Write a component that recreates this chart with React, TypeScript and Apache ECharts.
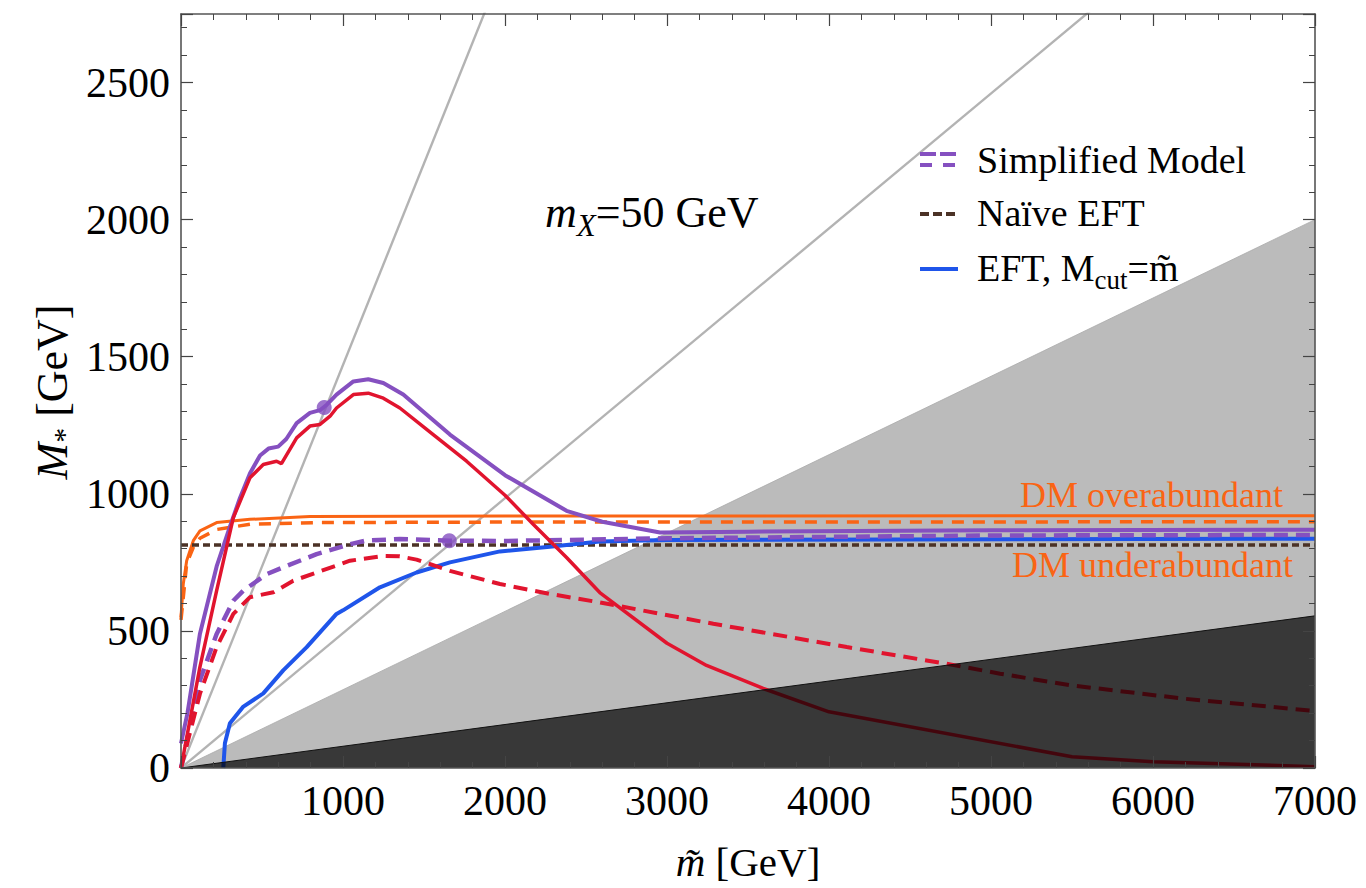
import React, { useEffect, useRef } from "react";
import * as echarts from "echarts";

const FONT = "'Liberation Serif', 'Times New Roman', Times, serif";

const xMin = 0;
const xMax = 7000;
const xMajor = 1000;
const yMin = 0;
const yMax = 2750;
const yMajor = 500;
const yMinor = 100;

// Simplified model, solid (purple)
const purpleSolid: [number, number][] = [
  [0, 90], [40, 200], [117, 490], [220, 735], [302, 880], [364, 985], [426, 1075],
  [488, 1140], [540, 1165], [600, 1172], [650, 1200], [714, 1258], [796, 1295],
  [858, 1305], [900, 1325], [960, 1362], [1064, 1410], [1156, 1418], [1249, 1404],
  [1372, 1362], [1660, 1216], [2000, 1068], [2380, 938], [2600, 898], [2957, 859],
  [3500, 862], [5000, 867], [7000, 869],
];
// Simplified model, dashed (purple)
const purpleDashed: [number, number][] = [
  [0, 0], [117, 320], [220, 489], [323, 610], [385, 647], [529, 707], [631, 732],
  [837, 780], [1043, 816], [1146, 830], [1351, 835], [1557, 831], [1656, 829],
  [2000, 828], [3000, 838], [5000, 848], [7000, 850],
];
// red solid
const redSolid: [number, number][] = [
  [0, 0], [117, 369], [220, 647], [323, 913], [426, 1059], [508, 1107], [590, 1119],
  [620, 1110], [714, 1204], [796, 1247], [858, 1253], [920, 1283], [960, 1313],
  [1064, 1362], [1156, 1367], [1249, 1349], [1351, 1313], [1557, 1216], [1763, 1119],
  [2000, 995], [2174, 889], [2380, 768], [2585, 640], [3000, 455], [3244, 374],
  [3594, 290], [4000, 205], [5500, 41], [6000, 23], [7000, 5],
];
// red dashed
const redDashed: [number, number][] = [
  [0, 0], [117, 271], [220, 441], [323, 562], [426, 623], [570, 641], [693, 683],
  [837, 713], [1043, 756], [1249, 773], [1350, 772], [1454, 760], [1660, 719],
  [1969, 671], [2277, 635], [2585, 604], [3286, 526], [4110, 441], [4727, 380],
  [5056, 344], [5488, 302], [6188, 253], [7000, 208],
];
// EFT, Mcut = m~ (blue)
const blueEft: [number, number][] = [
  [261, 0], [271, 90], [302, 163], [385, 224], [508, 272], [631, 356], [776, 441],
  [960, 562], [1000, 575], [1228, 659], [1454, 713], [1660, 750], [1969, 790],
  [2277, 807], [2585, 826], [3000, 832], [7000, 836],
];
// relic density (orange)
const orangeSolid: [number, number][] = [
  [0, 550], [14, 671], [35, 756], [76, 829], [117, 865], [220, 895], [426, 907],
  [796, 917], [2000, 919], [7000, 920],
];
const orangeDashed: [number, number][] = [
  [0, 540], [35, 745], [76, 805], [117, 838], [220, 870], [426, 889], [837, 895],
  [2000, 897], [7000, 898],
];
// Naive EFT
const naiveEft: [number, number][] = [[0, 813], [7000, 813]];
// marked points
const markedPoints: [number, number][] = [[884, 1315], [1656, 829]];
// gray guide lines through the origin (slopes)
const grayLineSlopes = [1.47, 0.492];
// shaded regions (upper edges)
const lightRegionEdge: [number, number][] = [[0, 0], [7000, 2000]];
const darkRegionEdge: [number, number][] = [[0, 0], [7000, 555]];

const legendNames = ["Simplified Model", "Naïve EFT", "EFT, M_cut=m̃"];

const C_PURPLE = "#8550c0";
const C_RED = "#e1142e";
const C_ORANGE = "#fa6414";
const C_BROWN = "#4b3226";
const C_BLUE = "#1f55ea";
const C_GRAY = "#b3b3b3";

const AX = "#555";

function lineSeries(data: [number, number][], color: string, width: number, type: any, z = 3) {
  return {
    type: "line",
    data,
    symbol: "none",
    smooth: false,
    lineStyle: { color, width, type, cap: "butt" },
    z,
    silent: true,
  };
}

function makeXAxis(pos: "bottom" | "top", labels: boolean) {
  return {
    type: "value",
    position: pos,
    min: xMin,
    max: xMax,
    interval: xMajor,
    z: 10,
    axisLine: { show: true, onZero: false, lineStyle: { color: AX, width: 1.6 } },
    axisTick: { show: true, inside: true, length: 12, lineStyle: { color: "#444", width: 1.2 } },
    minorTick: { show: true, splitNumber: 5, length: 6, lineStyle: { color: "#444", width: 1 } },
    splitLine: { show: false },
    minorSplitLine: { show: false },
    axisLabel: {
      show: labels,
      margin: 12,
      fontFamily: FONT,
      fontSize: 42,
      color: "#000",
      formatter: (v: number) => (v === 0 ? "" : String(v)),
    },
  };
}

function makeYAxis(pos: "left" | "right", interval: number, tickLen: number, line: boolean, labels: boolean) {
  return {
    type: "value",
    position: pos,
    min: yMin,
    max: yMax,
    interval,
    z: 10,
    axisLine: { show: line, onZero: false, lineStyle: { color: AX, width: 1.6 } },
    axisTick: { show: true, inside: true, length: tickLen, lineStyle: { color: "#444", width: tickLen > 8 ? 1.2 : 1 } },
    splitLine: { show: false },
    axisLabel: {
      show: labels,
      margin: 11,
      fontFamily: FONT,
      fontSize: 42,
      color: "#000",
      formatter: (v: number) => (v % yMajor === 0 ? String(v) : ""),
    },
  };
}

const richMain = { fontFamily: FONT, fontSize: 42, fill: "#000", verticalAlign: "middle" };

export default function App() {
  const ref = useRef<HTMLDivElement>(null);
  useEffect(() => {
    const chart = echarts.init(ref.current!, null, { renderer: "svg" });

    const graySeries = grayLineSlopes.map((s) =>
      lineSeries([[0, 0], [xMax, xMax * s]], C_GRAY, 2.4, "solid", 2)
    );

    const legendX1 = 920;
    const legendX2 = 958;
    const legendTextX = 977;
    const legendY = [160, 213, 268];

    const option: any = {
      animation: false,
      backgroundColor: "#fff",
      grid: { left: 181, right: 51, top: 14, bottom: 120, containLabel: false },
      xAxis: [makeXAxis("bottom", true), makeXAxis("top", false)],
      yAxis: [
        makeYAxis("left", yMajor, 12, true, true),
        makeYAxis("left", yMinor, 6, false, false),
        makeYAxis("right", yMajor, 12, true, false),
        makeYAxis("right", yMinor, 6, false, false),
      ],
      series: [
        {
          type: "line",
          data: lightRegionEdge,
          symbol: "none",
          lineStyle: { color: "#aaaaaa", width: 0.8 },
          areaStyle: { color: "#bbbbbb", opacity: 1 },
          z: 1,
          silent: true,
        },
        ...graySeries,
        lineSeries(orangeSolid, C_ORANGE, 3, "solid"),
        lineSeries(orangeDashed, C_ORANGE, 3.5, [12, 9]),
        lineSeries(naiveEft, C_BROWN, 3.5, [7, 4]),
        lineSeries(blueEft, C_BLUE, 4, "solid"),
        lineSeries(purpleDashed, C_PURPLE, 4.5, [14, 8]),
        lineSeries(redDashed, C_RED, 4, [14, 8]),
        lineSeries(purpleSolid, C_PURPLE, 4, "solid"),
        lineSeries(redSolid, C_RED, 3.5, "solid"),
        {
          type: "scatter",
          data: markedPoints,
          symbol: "circle",
          symbolSize: 15,
          itemStyle: { color: C_PURPLE },
          z: 4,
          silent: true,
        },
        {
          type: "line",
          data: darkRegionEdge,
          symbol: "none",
          lineStyle: { color: "#111", width: 1 },
          areaStyle: { color: "rgba(0,0,0,0.7)", opacity: 1 },
          z: 5,
          silent: true,
        },
      ],
      graphic: [
        {
          type: "text",
          x: 545,
          y: 212,
          z: 20,
          style: {
            text: "{i|m}{s|X}{n|=50 GeV}",
            verticalAlign: "middle",
            rich: {
              i: { ...richMain, fontSize: 44, fontStyle: "italic" },
              s: { fontFamily: FONT, fontSize: 31, fontStyle: "italic", fill: "#000", verticalAlign: "bottom", padding: [26, 0, 0, 0] },
              n: { ...richMain, fontSize: 44 },
            },
          },
        },
        // y axis title
        {
          type: "text",
          x: 52,
          y: 392,
          rotation: Math.PI / 2,
          z: 20,
          style: {
            text: "{i|M}{s|*}{n| [GeV]}",
            align: "center",
            verticalAlign: "middle",
            rich: {
              i: { ...richMain, fontSize: 44, fontStyle: "italic" },
              s: { fontFamily: FONT, fontSize: 30, fill: "#000", verticalAlign: "bottom", padding: [22, 0, 0, 0] },
              n: { ...richMain, fontSize: 44 },
            },
          },
        },
        // x axis title
        {
          type: "text",
          x: 748,
          y: 862,
          z: 20,
          style: {
            text: "{i|m\u0303}{n| [GeV]}",
            align: "center",
            verticalAlign: "middle",
            rich: {
              i: { ...richMain, fontSize: 41, lineHeight: 44, fontStyle: "italic" },
              n: { ...richMain, fontSize: 41, lineHeight: 44 },
            },
          },
        },
        // legend symbols
        { type: "line", z: 20, shape: { x1: legendX1, y1: legendY[0] - 6, x2: legendX2, y2: legendY[0] - 6 }, style: { stroke: C_PURPLE, lineWidth: 4, lineDash: [16, 4] } },
        { type: "line", z: 20, shape: { x1: legendX1, y1: legendY[0] + 5, x2: legendX2, y2: legendY[0] + 5 }, style: { stroke: C_PURPLE, lineWidth: 4, lineDash: [12, 11] } },
        { type: "line", z: 20, shape: { x1: legendX1, y1: legendY[1] + 1, x2: legendX2, y2: legendY[1] + 1 }, style: { stroke: C_BROWN, lineWidth: 4, lineDash: [9, 4] } },
        { type: "line", z: 20, shape: { x1: legendX1, y1: legendY[2] + 1, x2: legendX2, y2: legendY[2] + 1 }, style: { stroke: C_BLUE, lineWidth: 4 } },
        {
          type: "text", x: legendTextX, y: legendY[0], z: 20,
          style: { text: legendNames[0], fontFamily: FONT, fontSize: 38, fill: "#000", verticalAlign: "middle" },
        },
        {
          type: "text", x: legendTextX, y: legendY[1], z: 20,
          style: { text: legendNames[1], fontFamily: FONT, fontSize: 38, fill: "#000", verticalAlign: "middle" },
        },
        {
          type: "text", x: legendTextX, y: legendY[2], z: 20,
          style: {
            text: "{n|EFT, M}{s|cut}{n|=m\u0303}",
            verticalAlign: "middle",
            rich: {
              n: { fontFamily: FONT, fontSize: 38, fill: "#000", verticalAlign: "middle" },
              s: { fontFamily: FONT, fontSize: 27, fill: "#000", verticalAlign: "bottom", padding: [24, 0, 0, 0] },
            },
          },
        },
        // region labels
        {
          type: "text", x: 1283, y: 495, z: 20,
          style: { text: "DM overabundant", fontFamily: FONT, fontSize: 36, fill: C_ORANGE, align: "right", verticalAlign: "middle" },
        },
        {
          type: "text", x: 1293, y: 565, z: 20,
          style: { text: "DM underabundant", fontFamily: FONT, fontSize: 36, fill: C_ORANGE, align: "right", verticalAlign: "middle" },
        },
      ],
    };
    chart.setOption(option);
    return () => chart.dispose();
  }, []);
  return (
    <div
      ref={ref}
      style={{ position: "fixed", left: 0, top: 0, width: 1366, height: 888, background: "#fff" }}
    />
  );
}
